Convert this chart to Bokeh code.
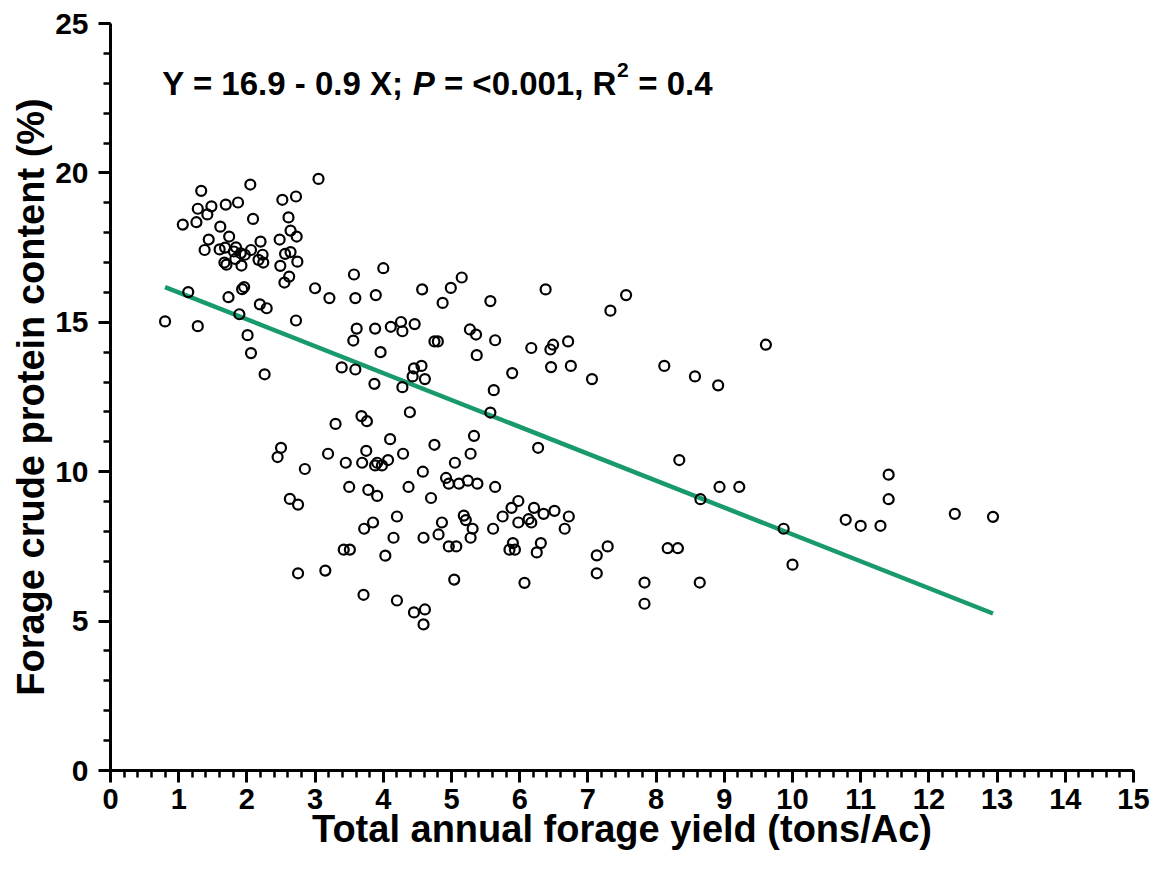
from bokeh.plotting import figure
from bokeh.models import SingleIntervalTicker, Label, Range1d
from bokeh.embed import file_html
from bokeh.resources import INLINE

# ---- data ----
x_yield = [
    1.33, 2.05, 3.05, 1.28, 1.48, 1.42, 1.69, 1.87, 2.52, 2.72,
    1.06, 1.26, 2.09, 2.61, 1.61, 2.64, 2.73, 1.74, 1.44, 2.20,
    2.48, 1.38, 1.60, 1.68, 1.84, 1.81, 1.91, 1.97, 1.83, 2.06,
    1.67, 1.70, 1.92, 2.17, 2.23, 2.24, 2.56, 2.64, 2.74, 2.49,
    2.62, 2.55, 3.00, 3.21, 1.14, 1.73, 1.93, 1.96, 2.19, 2.29,
    1.89, 0.80, 1.28, 2.72, 2.01, 2.06, 2.26, 2.50, 2.45, 2.63,
    2.75, 2.75,
    3.57, 4.00, 3.59, 3.89, 4.57, 4.99, 5.15, 4.87, 5.57, 6.38,
    3.61, 3.88, 4.11, 4.26, 4.28, 4.46, 5.27, 5.36, 5.64, 3.56,
    4.75, 4.80, 3.96, 5.37, 6.17, 6.45, 6.49, 6.71, 6.46, 6.75,
    3.39, 3.59, 3.87, 4.45, 4.56, 4.43, 4.61, 4.28, 5.89, 5.62,
    5.57, 4.39, 3.68, 3.76, 3.30, 5.33, 6.27, 4.10, 4.75, 5.28,
    3.19, 3.75, 3.45, 3.69, 3.88, 3.91, 3.98, 4.07, 4.29, 5.05,
    2.85, 4.58, 4.92, 4.96, 5.11, 5.24, 5.38, 5.64, 3.50, 3.78,
    3.91, 4.37, 4.70, 5.98,
    5.75, 5.88, 5.98, 6.13, 6.17, 6.21, 6.35, 6.51, 6.72, 6.66,
    3.72, 3.85, 4.20, 4.15, 4.59, 4.81, 4.86, 5.18, 5.21, 5.31,
    5.28, 5.61, 4.96, 5.07, 3.42, 3.51, 4.03, 5.90, 5.85, 5.93,
    6.31, 6.25, 3.15, 5.04, 6.07, 3.71, 4.20, 4.45, 4.61, 4.59,
    7.33, 7.56, 7.06, 8.12, 8.57, 8.91, 9.61, 8.34, 8.93, 9.22,
    8.65, 9.87, 7.29, 8.17, 8.32,
    7.13, 7.13, 7.83, 7.83, 8.64, 10.00,
    11.41, 11.41, 10.78, 11.00, 11.29, 12.38, 12.94,
]
y_protein = [
    19.40, 19.61, 19.80, 18.80, 18.88, 18.61, 18.94, 19.01, 19.10, 19.21,
    18.27, 18.35, 18.46, 18.51, 18.20, 18.07, 17.87, 17.87, 17.77, 17.70,
    17.77, 17.42, 17.44, 17.50, 17.51, 17.37, 17.31, 17.26, 17.12, 17.42,
    17.00, 16.93, 16.90, 17.09, 17.26, 17.00, 17.29, 17.35, 17.03, 16.89,
    16.53, 16.33, 16.14, 15.81, 16.01, 15.84, 16.11, 16.18, 15.60, 15.47,
    15.27, 15.03, 14.87, 15.06, 14.57, 13.97, 13.26, 10.80, 10.49, 9.09,
    8.90, 6.60,
    16.60, 16.81, 15.81, 15.91, 16.10, 16.15, 16.50, 15.65, 15.71, 16.10,
    14.79, 14.79, 14.85, 15.01, 14.70, 14.94, 14.76, 14.59, 14.40, 14.39,
    14.36, 14.36, 14.00, 13.90, 14.14, 14.09, 14.25, 14.36, 13.50, 13.54,
    13.49, 13.42, 12.94, 13.46, 13.54, 13.19, 13.10, 12.83, 13.30, 12.73,
    11.98, 11.99, 11.86, 11.69, 11.60, 11.20, 10.80, 11.09, 10.90, 10.60,
    10.60, 10.70, 10.30, 10.30, 10.21, 10.30, 10.21, 10.39, 10.60, 10.30,
    10.09, 10.00, 9.79, 9.60, 9.60, 9.70, 9.60, 9.49, 9.49, 9.39,
    9.19, 9.49, 9.12, 9.02,
    8.50, 8.79, 8.30, 8.41, 8.30, 8.79, 8.59, 8.69, 8.50, 8.09,
    8.09, 8.30, 8.50, 7.79, 7.79, 7.90, 8.30, 8.53, 8.38, 8.09,
    7.79, 8.09, 7.50, 7.50, 7.39, 7.39, 7.19, 7.61, 7.39, 7.39,
    7.61, 7.30, 6.69, 6.39, 6.28, 5.88, 5.69, 5.29, 5.39, 4.89,
    15.39, 15.91, 13.10, 13.54, 13.19, 12.89, 14.25, 10.39, 9.49, 9.49,
    9.08, 8.09, 7.50, 7.44, 7.44,
    7.20, 6.60, 6.29, 5.58, 6.29, 6.89,
    9.90, 9.08, 8.39, 8.19, 8.19, 8.59, 8.49,
]

fit_intercept = 16.9
fit_slope = -0.9

x_title = "Total annual forage yield (tons/Ac)"
y_title = "Forage crude protein content (%)"

FONT = "Liberation Sans"

p = figure(width=1151, height=872, output_backend="svg", toolbar_location=None,
           x_range=Range1d(0, 15), y_range=Range1d(0, 25),
           min_border_left=110, min_border_right=18, min_border_top=23,
           min_border_bottom=102)
p.outline_line_color = None
p.xgrid.visible = False
p.ygrid.visible = False
p.background_fill_color = "white"
p.border_fill_color = "white"

# regression line from the stated fit, over the observed x range
lx = [min(x_yield), max(x_yield)]
ly = [fit_intercept + fit_slope * v for v in lx]
p.line(lx, ly, line_color="#189a6b", line_width=4.5)

p.scatter(x_yield, y_protein, marker="circle", size=10, fill_color=None,
          line_color="black", line_width=2.2)

for ax in (p.xaxis[0], p.yaxis[0]):
    ax.axis_line_width = 3
    ax.axis_line_color = "black"
    ax.major_tick_line_width = 3
    ax.minor_tick_line_width = 2.5
    ax.major_tick_in = 0
    ax.minor_tick_in = 0
    ax.major_tick_out = 12
    ax.minor_tick_out = 7
    ax.major_label_text_font = FONT
    ax.major_label_text_font_style = "bold"
    ax.major_label_text_color = "black"
    ax.axis_label_text_font = FONT
    ax.axis_label_text_font_style = "bold"
    ax.axis_label_text_color = "black"

p.xaxis.major_label_text_font_size = "29px"
p.yaxis.major_label_text_font_size = "30px"
p.xaxis.major_label_standoff = 6
p.yaxis.major_label_standoff = 10
p.xaxis.ticker = SingleIntervalTicker(interval=1, num_minor_ticks=5)
p.yaxis.ticker = SingleIntervalTicker(interval=5, num_minor_ticks=5)
p.xaxis.axis_label = x_title
p.xaxis.axis_label_text_font_size = "38px"
p.xaxis.axis_label_standoff = -4
p.yaxis.axis_label = y_title
p.yaxis.axis_label_text_font_size = "38px"
p.yaxis.axis_label_standoff = 0

# equation annotation, built from segments
fs = 33
ax0, ay0 = 0.76, 23.0
segs = [
    ("Y = 16.9 - 0.9 X;", 0.0, fs, "bold", 0),
    ("P", 7.588, fs, "bold italic", 0),
    ("= <0.001, R", 8.533, fs, "bold", 0),
    ("2", 13.78, int(fs * 0.65), "bold", int(fs * 0.42)),
    ("= 0.4", 14.42, fs, "bold", 0),
]
for txt, off_em, size, style, yoff in segs:
    p.add_layout(Label(x=ax0, y=ay0, x_offset=off_em * fs, y_offset=yoff,
                       text=txt, text_font=FONT, text_font_style=style,
                       text_font_size=f"{size}px", text_color="black",
                       text_baseline="alphabetic"))

open("out.html", "w").write(file_html(p, INLINE))
